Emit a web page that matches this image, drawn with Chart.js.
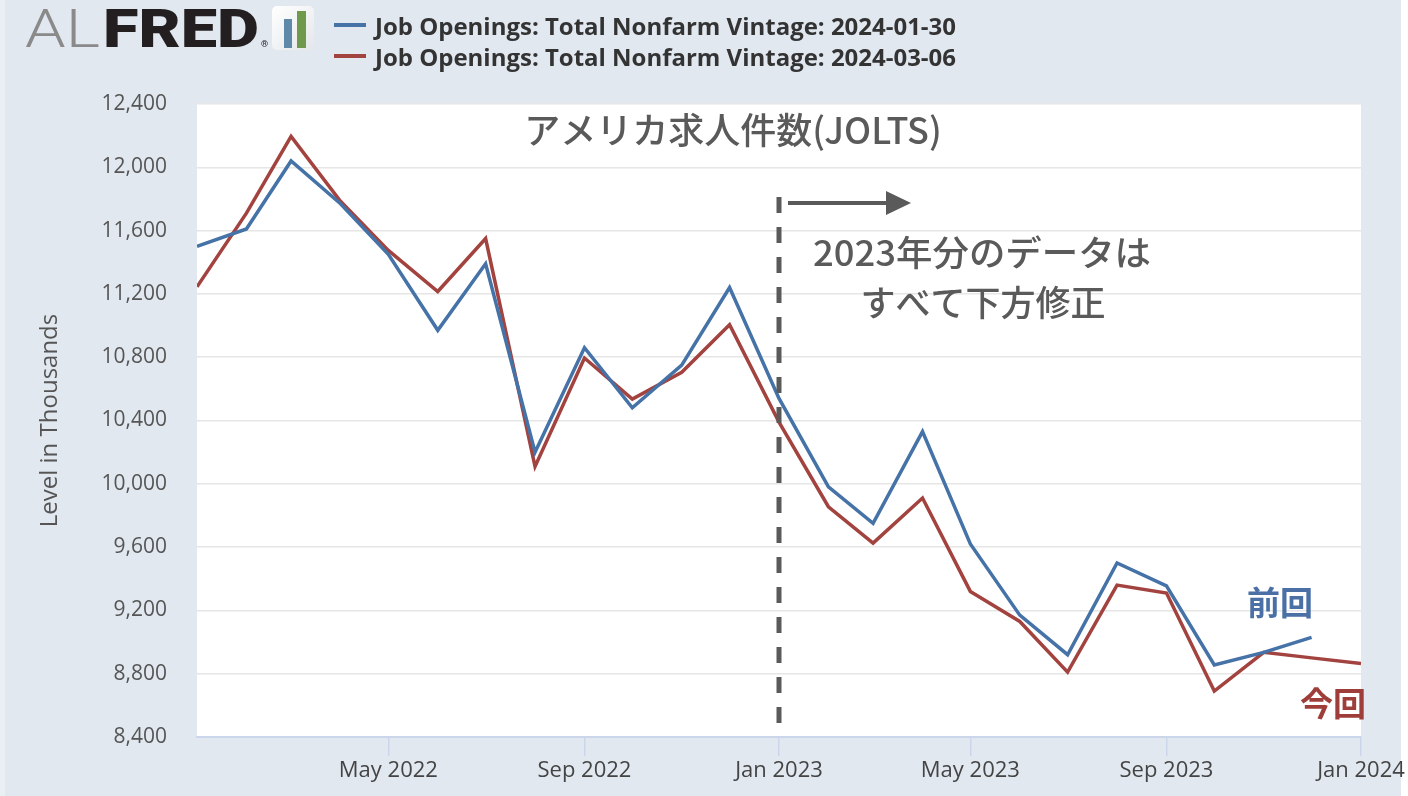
<!DOCTYPE html>
<html>
<head>
<meta charset="utf-8">
<script src="https://cdn.jsdelivr.net/npm/chart.js@4.4.1/dist/chart.umd.min.js"></script>
<style>
  html, body { margin: 0; padding: 0; background: #fff; }
</style>
</head>
<body>
<canvas id="chart" width="1408" height="796"></canvas>
<script>
// monthly observations, Jan 2022 .. Jan 2024
const months = [
  '2022-01', '2022-02', '2022-03', '2022-04', '2022-05', '2022-06',
  '2022-07', '2022-08', '2022-09', '2022-10', '2022-11', '2022-12',
  '2023-01', '2023-02', '2023-03', '2023-04', '2023-05', '2023-06',
  '2023-07', '2023-08', '2023-09', '2023-10', '2023-11', '2023-12',
  '2024-01'
];
// vintage 2024-01-30 (ends Dec 2023)
const vintageJan30 = [
  11500, 11610, 12040, 11770, 11450, 10970, 11390, 10200, 10860, 10480, 10750, 11240,
  10540, 9980, 9750, 10330, 9620, 9170, 8920, 9500, 9355, 8855, 8935, 9030
];
// vintage 2024-03-06 (ends Jan 2024)
const vintageMar06 = [
  11245, 11710, 12195, 11785, 11475, 11215, 11550, 10110, 10795, 10535, 10705, 11005,
  10390, 9855, 9625, 9910, 9320, 9130, 8810, 9360, 9310, 8690, 8935, 8900, 8865
];
const seriesNames = [
  'Job Openings: Total Nonfarm Vintage: 2024-01-30',
  'Job Openings: Total Nonfarm Vintage: 2024-03-06'
];
const tickDates = ['2022-05', '2022-09', '2023-01', '2023-05', '2023-09', '2024-01'];
const tickLabels = ['May 2022', 'Sep 2022', 'Jan 2023', 'May 2023', 'Sep 2023', 'Jan 2024'];
const yMin = 8400, yMax = 12400, yStep = 400;
const splitMonth = '2023-01';

const BLUE = '#4572a7';
const RED = '#a3433f';
const GREY = '#5a5a5a';

function toTime(m) {
  return Date.UTC(+m.slice(0, 4), +m.slice(5, 7) - 1, 1);
}

function fitText(ctx, text, x, y, w) {
  const m = ctx.measureText(text).width;
  ctx.save();
  ctx.translate(x, y);
  ctx.scale(w / m, 1);
  ctx.fillText(text, 0, 0);
  ctx.restore();
}

const backdrop = {
  id: 'backdrop',
  beforeDraw(chart) {
    const { ctx, chartArea: a } = chart;
    ctx.save();
    ctx.fillStyle = '#fff';
    ctx.fillRect(0, 0, chart.width, chart.height);
    ctx.fillStyle = '#eaeff4';
    ctx.fillRect(0, 0, 5, chart.height);
    ctx.fillStyle = '#e1e8f0';
    ctx.fillRect(5, 0, 1396, chart.height);
    ctx.fillStyle = '#fff';
    ctx.fillRect(a.left, a.top, a.right - a.left, a.bottom - a.top);
    ctx.restore();
  }
};

const annotate = {
  id: 'annotate',
  afterDatasetsDraw(chart) {
    const { ctx, scales: { x } } = chart;
    const lx = x.getPixelForValue(toTime(splitMonth));
    ctx.save();
    // dashed divider
    ctx.strokeStyle = GREY;
    ctx.lineWidth = 5;
    ctx.setLineDash([16, 14]);
    ctx.beginPath();
    ctx.moveTo(lx, 197);
    ctx.lineTo(lx, 728);
    ctx.stroke();
    ctx.setLineDash([]);
    // arrow
    ctx.lineWidth = 4;
    ctx.beginPath();
    ctx.moveTo(lx + 9, 203);
    ctx.lineTo(lx + 110, 203);
    ctx.stroke();
    ctx.fillStyle = GREY;
    ctx.beginPath();
    ctx.moveTo(lx + 107, 191);
    ctx.lineTo(lx + 132, 203);
    ctx.lineTo(lx + 107, 215);
    ctx.closePath();
    ctx.fill();
    // texts
    ctx.textAlign = 'center';
    ctx.textBaseline = 'middle';
    ctx.font = '500 36px "Noto Sans CJK JP"';
    ctx.fillText('アメリカ求人件数(JOLTS)', 733, 130);
    ctx.font = '500 35px "Noto Sans CJK JP"';
    ctx.textAlign = 'left';
    fitText(ctx, '2023年分のデータは', 813, 253, 338);
    ctx.textAlign = 'center';
    ctx.fillText('すべて下方修正', 983, 303);
    ctx.font = 'bold 33px "Noto Sans CJK JP"';
    ctx.fillStyle = '#4a70a6';
    ctx.fillText('前回', 1280, 602);
    ctx.fillStyle = '#9e3d39';
    ctx.fillText('今回', 1333, 703);
    ctx.restore();
  }
};

const header = {
  id: 'header',
  afterDraw(chart) {
    const ctx = chart.ctx;
    ctx.save();
    ctx.textBaseline = 'alphabetic';
    ctx.textAlign = 'left';
    // logo
    ctx.fillStyle = '#8a8a8a';
    ctx.font = '300 54px Roboto';
    fitText(ctx, 'AL', 25, 47, 75);
    ctx.fillStyle = '#231f20';
    ctx.font = '900 54px Roboto';
    fitText(ctx, 'FRED', 103, 47, 156);
    ctx.font = '700 9px Roboto';
    ctx.fillText('®', 261, 47);
    const g = ctx.createLinearGradient(272, 6, 314, 50);
    g.addColorStop(0, '#ffffff');
    g.addColorStop(1, '#e4e7ea');
    ctx.fillStyle = g;
    ctx.beginPath();
    ctx.roundRect(272, 6, 42, 44, 5);
    ctx.fill();
    ctx.fillStyle = '#5f89a8';
    ctx.fillRect(284, 19, 8, 29);
    ctx.fillStyle = '#6f9a4b';
    ctx.fillRect(297, 11, 9, 37);
    // legend
    const colors = [BLUE, RED];
    ctx.font = 'bold 24px "Open Sans"';
    seriesNames.forEach((name, i) => {
      const yy = 25 + i * 31;
      ctx.strokeStyle = colors[i];
      ctx.lineWidth = 4;
      ctx.beginPath();
      ctx.moveTo(334, yy);
      ctx.lineTo(366, yy);
      ctx.stroke();
      ctx.fillStyle = '#333';
      fitText(ctx, name, 375, yy + 10, 581);
    });
    ctx.restore();
  }
};

function series(values) {
  return values.map((v, i) => ({ x: toTime(months[i]), y: v }));
}

new Chart(document.getElementById('chart'), {
  type: 'line',
  data: {
    datasets: [
      {
        label: seriesNames[0],
        data: series(vintageJan30),
        borderColor: BLUE,
        borderWidth: 3.5,
        pointRadius: 0,
        tension: 0
      },
      {
        label: seriesNames[1],
        data: series(vintageMar06),
        borderColor: RED,
        borderWidth: 3.5,
        pointRadius: 0,
        tension: 0
      }
    ]
  },
  options: {
    responsive: false,
    animation: false,
    layout: { padding: { top: 104, right: 47, bottom: 0, left: 0 } },
    plugins: {
      legend: { display: false },
      tooltip: { enabled: false }
    },
    scales: {
      x: {
        type: 'linear',
        min: toTime(months[0]),
        max: toTime(months[months.length - 1]),
        afterBuildTicks: s => { s.ticks = tickDates.map(d => ({ value: toTime(d) })); },
        afterFit: s => { s.height = 59; },
        ticks: {
          callback: (v, i) => tickLabels[i],
          font: { family: 'Open Sans', size: 22 },
          color: '#444',
          padding: 2,
          maxRotation: 0,
          autoSkip: false
        },
        grid: { drawOnChartArea: false, drawTicks: true, tickLength: 19, color: '#ccd6eb', lineWidth: 1.5 },
        border: { display: true, color: '#ccd6eb', width: 2 }
      },
      y: {
        min: yMin,
        max: yMax,
        afterFit: s => { s.width = 197; },
        ticks: {
          stepSize: yStep,
          callback: v => v.toLocaleString('en-US'),
          font: { family: 'Open Sans', size: 21 },
          color: '#555',
          padding: 30
        },
        grid: { color: '#e6e6e6', lineWidth: 1.5, drawTicks: false },
        border: { display: false },
        title: {
          display: true,
          text: 'Level in Thousands',
          font: { family: 'Open Sans', size: 24 },
          color: '#555',
          padding: { top: 36 }
        }
      }
    }
  },
  plugins: [backdrop, annotate, header]
});
</script>
</body>
</html>
